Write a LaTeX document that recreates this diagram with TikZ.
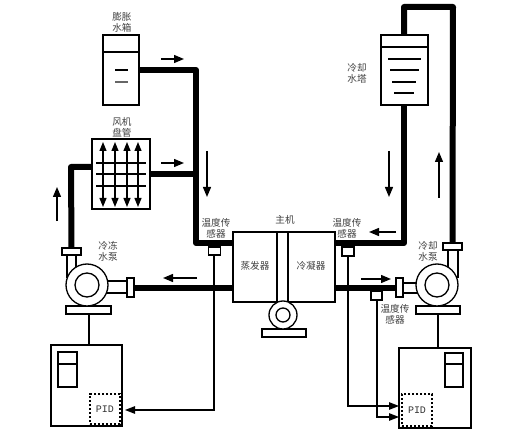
\documentclass[tikz,border=0pt]{standalone}
\usepackage{fontspec}
\setmainfont{Noto Sans CJK SC}
\newfontfamily\pidfont{Liberation Mono}
\usetikzlibrary{arrows.meta,calc}
\tikzset{
  x=1pt,y=-1pt,
  box/.style={draw=black,fill=white,line width=1.2pt,inner sep=0pt,outer sep=0pt,rectangle},
  pid/.style={draw=black,fill=white,line width=1.3pt,dash pattern=on 2.4pt off 1.6pt,inner sep=0pt,outer sep=0pt,font=\pidfont\fontsize{10}{10}\selectfont,text=black!80},
  pipe/.style={line width=6pt,line join=round,draw=black},
  thin line/.style={line width=1.2pt,draw=black},
  flow/.style={line width=1.3pt,draw=black,-{Triangle[length=10pt,width=8pt]}},
  signal/.style={line width=1.2pt,draw=black,line join=miter,-{Triangle[length=10pt,width=7.5pt]}},
  lbl/.style={font=\fontsize{9.6}{11.4}\selectfont,text=black!75,align=center,inner sep=0pt},
  pumpc/.style={circle,draw=black,fill=white,line width=1.3pt,inner sep=0pt,outer sep=0pt},
}
\begin{document}
\begin{tikzpicture}
\useasboundingbox[fill=white] (0,0) rectangle (515,444);
% ---- equipment nodes
\node[box,minimum width=36pt,minimum height=70pt] (tank) at (121,70) {};
\node[box,minimum width=58pt,minimum height=70pt] (coil) at (121,174) {};
\node[box,minimum width=47pt,minimum height=70pt] (tower) at (404.5,70) {};
\node[box,minimum width=102pt,minimum height=70pt] (host) at (284,267) {};
\coordinate (junctionA) at (196,70);
\coordinate (junctionB) at (196,243);
\coordinate (coilUp) at (71,167);
\coordinate (towerTopL) at (404,7);
\coordinate (towerTopR) at (453,7);
\coordinate (condOut) at (404,243);
% flanges
\node[box,minimum width=19pt,minimum height=7pt] (flL) at (71.5,251.5) {};
\node[box,minimum width=7pt,minimum height=19pt] (flLo) at (130.5,287.5) {};
\node[box,minimum width=19pt,minimum height=7pt] (flR) at (452.5,246.5) {};
\node[box,minimum width=7pt,minimum height=19pt] (flRo) at (399.5,287.5) {};
% ---- pipes
\draw[pipe] (tank.east |- junctionA) -- (junctionA) -- (junctionB) -- (host.west |- junctionB);
\draw[pipe] (coil.east) -- (coil.east -| junctionA);
\draw[pipe] (coil.west |- coilUp) -- (coilUp) -- (flL.north);
\draw[pipe] (flLo.east) -- (flLo.east -| host.west);
\draw[pipe] (host.east |- condOut) -- (condOut) -- (tower.south -| condOut);
\draw[pipe] (tower.north -| towerTopL) -- (towerTopL) -- (towerTopR) -- (flR.north);
\draw[pipe] (host.east |- flRo.west) -- (flRo.west);
% redraw boxes over pipes
\node[box,minimum width=36pt,minimum height=70pt] at (tank) {};
\node[box,minimum width=58pt,minimum height=70pt] at (coil) {};
\node[box,minimum width=47pt,minimum height=70pt] at (tower) {};
\node[box,minimum width=102pt,minimum height=70pt] at (host) {};
\node[box,minimum width=19pt,minimum height=7pt] at (flL) {};
\node[box,minimum width=7pt,minimum height=19pt] at (flLo) {};
\node[box,minimum width=19pt,minimum height=7pt] at (flR) {};
\node[box,minimum width=7pt,minimum height=19pt] at (flRo) {};
% tank details
\draw[thin line] (tank.west |- 0,52) -- (tank.east |- 0,52);
\draw[thin line] (115,70) -- (128,70);
\draw[thin line,draw=black!60] (115,82) -- (128,82);
% coil details
\foreach \px in {103,115,127,138}
  \draw[line width=1.2pt,{Triangle[length=9pt,width=7pt]}-{Triangle[length=9pt,width=7pt]}] (\px,142) -- (\px,207);
\foreach \py in {163,174,186}
  \draw[thin line] (96,\py) -- (146,\py);
% tower details
\draw[thin line] (tower.west |- 0,47) -- (tower.east |- 0,47);
\draw[thin line] (388,59) -- (421,59);
\draw[thin line] (390,70) -- (419,70);
\draw[thin line] (392,82) -- (416,82);
\draw[thin line] (394,93) -- (414,93);
% host details
\draw[thin line] (277,232) -- (277,302);
\draw[thin line] (288,232) -- (288,302);
% host compressor
\node[box,minimum width=44pt,minimum height=8pt] (hbase) at (284,333) {};
\node[pumpc,minimum size=28pt] (hpump) at (283,315) {};
\node[pumpc,minimum size=14pt] at (hpump) {};
% left pump
\draw[thin line] (67,255) -- (67,278);
\draw[thin line] (76,255) -- (76,268);
\draw[thin line] (106,281) -- (flLo.west |- 0,281);
\draw[thin line] (106,293) -- (flLo.west |- 0,293);
\node[box,minimum width=45pt,minimum height=8pt] (lbase) at (88.5,310) {};
\node[pumpc,minimum size=42pt] (lpump) at (87,285) {};
\node[pumpc,minimum size=24pt] at (lpump) {};
% right pump
\draw[thin line] (448,250) -- (448,270);
\draw[thin line] (458,250) -- (458,278);
\draw[thin line] (flRo.east |- 0,283) -- (418,283);
\draw[thin line] (flRo.east |- 0,293) -- (418,293);
\node[box,minimum width=44pt,minimum height=8pt] (rbase) at (438,310) {};
\node[pumpc,minimum size=42pt] (rpump) at (437,285) {};
\node[pumpc,minimum size=24pt] at (rpump) {};
% control cabinets
\node[box,minimum width=71pt,minimum height=81pt] (lcab) at (86.5,385.5) {};
\node[box,minimum width=72pt,minimum height=80pt] (rcab) at (435,388) {};
\draw[thin line] (lbase.south -| 89,0) -- (lcab.north -| 89,0);
\draw[thin line] (rbase.south -| 438,0) -- (rcab.north -| 438,0);
\node[box,minimum width=19pt,minimum height=35pt] (lpan) at (67.5,369.5) {};
\draw[thin line] (lpan.west |- 0,364) -- (lpan.east |- 0,364);
\node[box,minimum width=18pt,minimum height=34pt] (rpan) at (454,370) {};
\draw[thin line] (rpan.west |- 0,364) -- (rpan.east |- 0,364);
\node[pid,minimum width=30pt,minimum height=30pt] (lpid) at (105,409) {PID};
\node[pid,minimum width=30pt,minimum height=32pt] (rpid) at (417,410) {PID};
% sensors
\node[box,minimum width=12pt,minimum height=8pt] (s1) at (214.5,251) {};
\node[box,minimum width=12pt,minimum height=9pt] (s2) at (348,251.5) {};
\node[box,minimum width=11pt,minimum height=9pt] (s3) at (376.5,295.5) {};
\coordinate (c1) at (214,410);
\coordinate (c2) at (348,406);
\coordinate (c3) at (377,417);
\draw[signal] (s1.south -| c1) -- (c1) -- ($(lcab.east |- c1)+(3,0)$);
\draw[signal] (s2.south -| c2) -- (c2) -- (rcab.west |- c2);
\draw[signal] (s3.south -| c3) -- (c3) -- (rcab.west |- c3);
% flow arrows
\coordinate (a1s) at (161,59); \coordinate (a1e) at (184,59);
\coordinate (a2s) at (161,163); \coordinate (a2e) at (184,163);
\coordinate (a3s) at (207,151); \coordinate (a3e) at (207,197);
\coordinate (a4s) at (57,221); \coordinate (a4e) at (57,187);
\coordinate (a5s) at (197,278); \coordinate (a5e) at (163,278);
\coordinate (a6s) at (389,151); \coordinate (a6e) at (389,197);
\coordinate (a7s) at (439,198); \coordinate (a7e) at (439,152);
\coordinate (a8s) at (396,232); \coordinate (a8e) at (369,232);
\coordinate (a9s) at (361,279); \coordinate (a9e) at (391,279);
\foreach \k in {1,...,9} \draw[flow] (a\k s) -- (a\k e);
% labels
\node[lbl] (t1) at (122,22.5) {膨胀\\水箱};
\node[lbl] (t2) at (122,127.5) {风机\\盘管};
\node[lbl] (t3) at (357,73.5) {冷却\\水塔};
\node[lbl] (t4) at (216,228.5) {温度传\\感器};
\node[lbl] (t5) at (108,251.5) {冷冻\\水泵};
\node[lbl] (t6) at (285,220) {主机};
\node[lbl] (t7) at (255,266) {蒸发器};
\node[lbl] (t8) at (311,266) {冷凝器};
\node[lbl] (t9) at (347,228.5) {温度传\\感器};
\node[lbl] (t10) at (428,251.5) {冷却\\水泵};
\node[lbl] (t11) at (395,314.5) {温度传\\感器};
\end{tikzpicture}
\end{document}
